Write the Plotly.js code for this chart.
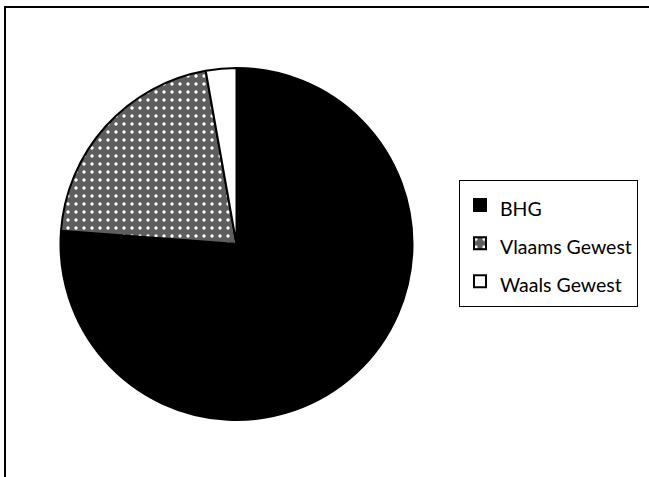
<!DOCTYPE html>
<html>
<head>
<meta charset="utf-8">
<script src="https://cdn.plot.ly/plotly-3.0.1.min.js"></script>
<style>html,body{margin:0;padding:0;background:#fff;}#chart{width:649px;height:477px;}</style>
</head>
<body>
<div id="chart"></div>
<script>
const labels = ["BHG", "Vlaams Gewest", "Waals Gewest"];
const values = [76.2, 21.0, 2.8];
const sliceColors = ["#000000", "#6e6e6e", "#ffffff"];

const W = 649, H = 477;
const trace = {
  type: "pie",
  labels: labels.map(l => '<span style="font-size:19.5px">' + l + '</span>'),
  values: values,
  sort: false,
  direction: "clockwise",
  rotation: 0,
  textinfo: "none",
  hoverinfo: "label+percent",
  marker: {
    colors: sliceColors,
    line: {color: "#000000", width: 2},
    pattern: {
      shape: ["", ".", ""],
      fgcolor: ["#000000", "#ffffff", "#ffffff"],
      bgcolor: ["#000000", "#5e5e5e", "#ffffff"],
      size: 8,
      solidity: 0.14,
      fillmode: "replace"
    }
  },
  domain: {x: [60.5 / W, 412.5 / W], y: [1 - 420 / H, 1 - 68 / H]}
};

const layout = {
  width: W, height: H,
  margin: {l: 0, r: 0, t: 0, b: 0},
  paper_bgcolor: "#ffffff",
  font: {family: "Lato, 'DejaVu Sans', sans-serif", color: "#000000"},
  showlegend: true,
  legend: {
    x: 459 / W, y: 1 - 180 / H, xanchor: "left", yanchor: "top",
    bordercolor: "#000000", borderwidth: 1, bgcolor: "#ffffff",
    font: {size: 27, family: "Lato, sans-serif", color: "#000000"}
  },
  shapes: [
    {type: "rect", xref: "paper", yref: "paper", x0: 5 / W, x1: 1.02, y0: -0.02, y1: 1 - 7 / H,
     line: {color: "#000000", width: 2}, fillcolor: "rgba(0,0,0,0)", layer: "above"}
  ]
};

Plotly.newPlot("chart", [trace], layout, {displayModeBar: false, staticPlot: true});
</script>
</body>
</html>
